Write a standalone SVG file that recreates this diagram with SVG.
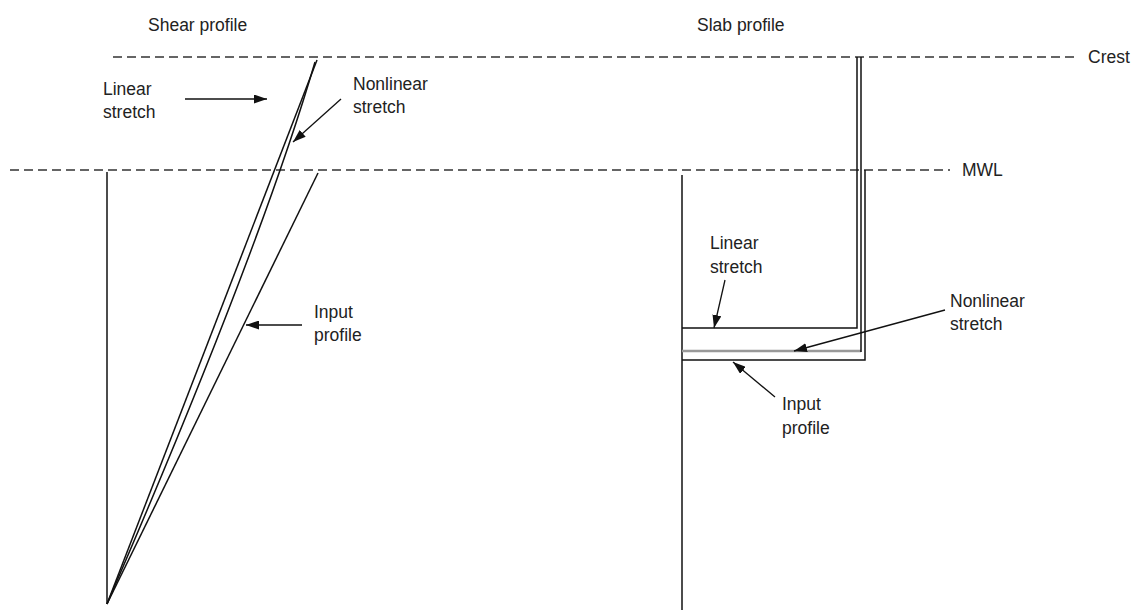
<svg xmlns="http://www.w3.org/2000/svg" width="1144" height="610" viewBox="0 0 1144 610">
<style>
text{font-family:"Liberation Sans",Arial,sans-serif;font-size:17.5px;fill:#222}
.dash{stroke:#333;stroke-width:1.6;stroke-dasharray:9 5;fill:none}
.ln{stroke:#111;stroke-width:1.5;fill:none}
.ar{stroke:#111;stroke-width:1.3;fill:none;marker-end:url(#ah)}
</style>
<defs>
<marker id="ah" markerWidth="13" markerHeight="9" refX="13" refY="4.5" orient="auto" markerUnits="userSpaceOnUse">
<path d="M0,0 L13,4.5 L0,9 Z" fill="#111"/>
</marker>
</defs>
<g id="levels">
<line class="dash" x1="113" y1="57" x2="1075" y2="57"/>
<line class="dash" x1="10" y1="170" x2="950" y2="170"/>
<text x="1088" y="63">Crest</text>
<text x="962" y="176">MWL</text>
</g>
<g id="shear-profile">
<text x="148" y="31">Shear profile</text>
<line class="ln" x1="107" y1="172" x2="107" y2="604"/>
<line class="ln" x1="107" y1="604" x2="318" y2="173"/>
<line class="ln" x1="107" y1="604" x2="317" y2="60"/>
<path class="ln" d="M107,604 Q260,250 315,62"/>
</g>
<g id="slab-profile">
<text x="697" y="31">Slab profile</text>
<line class="ln" x1="682" y1="175" x2="682" y2="610"/>
<path class="ln" d="M682,328 H857 V57"/>
<path d="M682,351 H861" stroke="#999" stroke-width="2.5" fill="none"/>
<path class="ln" d="M861,57 V352"/>
<path class="ln" d="M682,360 H865 V170"/>
</g>
<g id="labels">
<text x="103" y="95">Linear</text>
<text x="103" y="118">stretch</text>
<text x="353" y="90">Nonlinear</text>
<text x="353" y="113">stretch</text>
<text x="314" y="318">Input</text>
<text x="314" y="341">profile</text>
<text x="710" y="249">Linear</text>
<text x="710" y="273">stretch</text>
<text x="950" y="307">Nonlinear</text>
<text x="950" y="330">stretch</text>
<text x="782" y="410">Input</text>
<text x="782" y="434">profile</text>
</g>
<g id="connectors">
<line class="ar" x1="185" y1="99" x2="267" y2="99"/>
<line class="ar" x1="341" y1="99" x2="293" y2="142"/>
<line class="ar" x1="302" y1="325" x2="246" y2="325"/>
<line class="ar" x1="725" y1="280" x2="714" y2="328"/>
<line class="ar" x1="945" y1="310" x2="794" y2="351"/>
<line class="ar" x1="775" y1="397" x2="733" y2="362"/>
</g>
</svg>
